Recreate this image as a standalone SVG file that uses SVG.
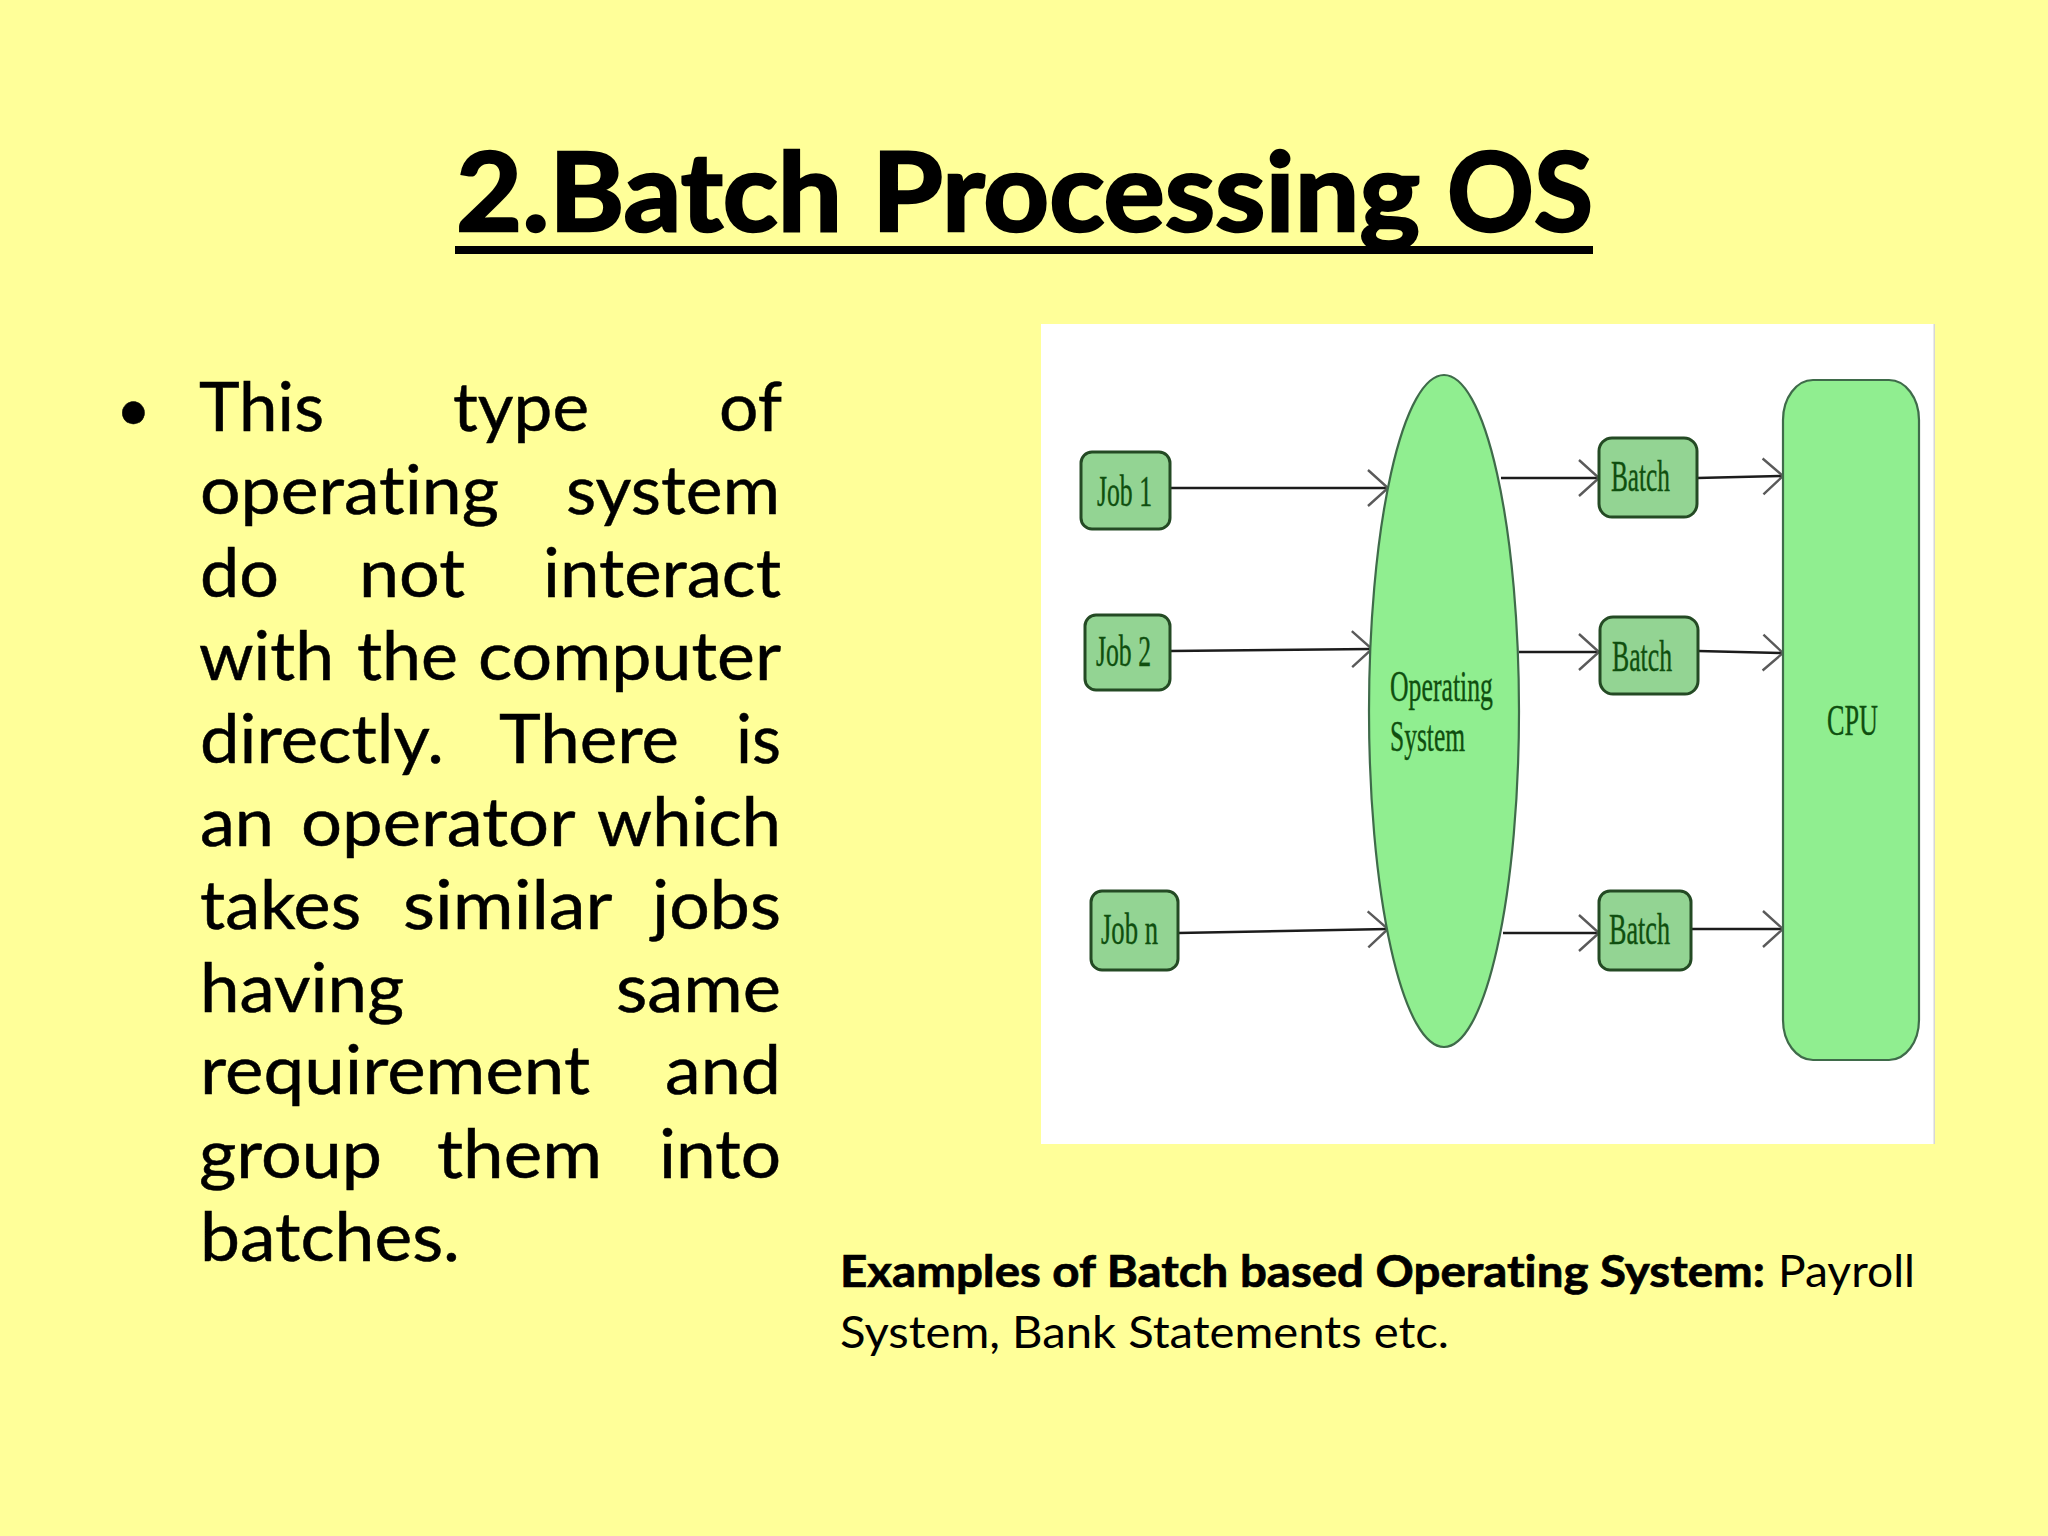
<svg xmlns="http://www.w3.org/2000/svg" width="2048" height="1536" viewBox="0 0 2048 1536">
<style>
.t{font-family:"Lato","Noto Sans",sans-serif;fill:#000;font-variant-ligatures:none}
.title{font-size:110px;font-weight:700;stroke:#000;stroke-width:2.5px}
.body{font-size:67px;stroke:#000;stroke-width:.5px}
.cap{font-size:44px}
.b{font-weight:700;stroke:#000;stroke-width:.7px}
.lbl{font-family:"Liberation Serif","Times New Roman",serif;font-size:44px;fill:#0f4f0f;stroke:#0f4f0f;stroke-width:.4px}
.box{fill:#93d493;stroke:#244a24;stroke-width:3}
.big{fill:#90ee90;stroke:#3f6b4a;stroke-width:2.2}
.conn{fill:none;stroke:#1c1c1c;stroke-width:2.6;marker-end:url(#arr)}
</style>
<defs>
<marker id="arr" markerUnits="userSpaceOnUse" markerWidth="26" markerHeight="44" refX="22" refY="20" orient="auto" overflow="visible">
<path d="M2,2 L22,20 L2,38" fill="none" stroke="#5a5a5a" stroke-width="2.4"/>
</marker>
</defs>
<rect width="2048" height="1536" fill="#ffff99"/>
<g id="title">
<text class="t title" y="231"><tspan x="456" textLength="386" lengthAdjust="spacingAndGlyphs">2.Batch</tspan> <tspan x="872" textLength="548" lengthAdjust="spacingAndGlyphs">Processing</tspan> <tspan x="1447" textLength="146" lengthAdjust="spacingAndGlyphs">OS</tspan></text>
<rect x="455" y="246" width="1138" height="8" fill="#000"/>
</g>
<g id="bullet-text">
<text class="t body" x="116" y="431" style="font-size:60px">•</text>
<text class="t body" y="431"><tspan x="199" textLength="125" lengthAdjust="spacingAndGlyphs">This</tspan> <tspan x="453" textLength="136" lengthAdjust="spacingAndGlyphs">type</tspan> <tspan x="719" textLength="63" lengthAdjust="spacingAndGlyphs">of</tspan></text>
<text class="t body" y="514"><tspan x="200" textLength="299" lengthAdjust="spacingAndGlyphs">operating</tspan> <tspan x="566" textLength="214" lengthAdjust="spacingAndGlyphs">system</tspan></text>
<text class="t body" y="597"><tspan x="200" textLength="79" lengthAdjust="spacingAndGlyphs">do</tspan> <tspan x="359" textLength="106" lengthAdjust="spacingAndGlyphs">not</tspan> <tspan x="543" textLength="238" lengthAdjust="spacingAndGlyphs">interact</tspan></text>
<text class="t body" y="680"><tspan x="199" textLength="135" lengthAdjust="spacingAndGlyphs">with</tspan> <tspan x="357" textLength="101" lengthAdjust="spacingAndGlyphs">the</tspan> <tspan x="478" textLength="303" lengthAdjust="spacingAndGlyphs">computer</tspan></text>
<text class="t body" y="763"><tspan x="200" textLength="244" lengthAdjust="spacingAndGlyphs">directly.</tspan> <tspan x="499" textLength="180" lengthAdjust="spacingAndGlyphs">There</tspan> <tspan x="736" textLength="45" lengthAdjust="spacingAndGlyphs">is</tspan></text>
<text class="t body" y="846"><tspan x="200" textLength="74" lengthAdjust="spacingAndGlyphs">an</tspan> <tspan x="301" textLength="273" lengthAdjust="spacingAndGlyphs">operator</tspan> <tspan x="597" textLength="184" lengthAdjust="spacingAndGlyphs">which</tspan></text>
<text class="t body" y="929"><tspan x="200" textLength="161" lengthAdjust="spacingAndGlyphs">takes</tspan> <tspan x="403" textLength="208" lengthAdjust="spacingAndGlyphs">similar</tspan> <tspan x="652" textLength="129" lengthAdjust="spacingAndGlyphs">jobs</tspan></text>
<text class="t body" y="1012"><tspan x="200" textLength="204" lengthAdjust="spacingAndGlyphs">having</tspan> <tspan x="616" textLength="165" lengthAdjust="spacingAndGlyphs">same</tspan></text>
<text class="t body" y="1094"><tspan x="200" textLength="390" lengthAdjust="spacingAndGlyphs">requirement</tspan> <tspan x="665" textLength="116" lengthAdjust="spacingAndGlyphs">and</tspan></text>
<text class="t body" y="1178"><tspan x="199" textLength="183" lengthAdjust="spacingAndGlyphs">group</tspan> <tspan x="437" textLength="165" lengthAdjust="spacingAndGlyphs">them</tspan> <tspan x="659" textLength="122" lengthAdjust="spacingAndGlyphs">into</tspan></text>
<text class="t body" y="1261"><tspan x="200" textLength="260" lengthAdjust="spacingAndGlyphs">batches.</tspan></text>
</g>
<g id="picture">
<rect x="1041" y="324" width="894" height="820" fill="#fff"/>
<rect x="1933.5" y="324" width="1.5" height="820" fill="#d6d6d6"/>
</g>
<g id="connectors">
<path class="conn" d="M1170,488 L1388,488"/>
<path class="conn" d="M1170,651 L1372,649"/>
<path class="conn" d="M1178,933 L1388,929"/>
<path class="conn" d="M1501,478 L1599,478"/>
<path class="conn" d="M1519,652 L1599,652"/>
<path class="conn" d="M1503,933 L1599,933"/>
<path class="conn" d="M1697,478 L1783,476"/>
<path class="conn" d="M1698,651 L1783,653"/>
<path class="conn" d="M1691,929 L1783,929"/>
</g>
<g id="job1"><rect class="box" x="1081" y="452" width="89" height="77" rx="11"/><text class="lbl" x="1097" y="506" textLength="55" lengthAdjust="spacingAndGlyphs">Job 1</text></g>
<g id="job2"><rect class="box" x="1085" y="615" width="85" height="75" rx="11"/><text class="lbl" x="1096" y="666" textLength="55" lengthAdjust="spacingAndGlyphs">Job 2</text></g>
<g id="jobn"><rect class="box" x="1091" y="891" width="87" height="79" rx="11"/><text class="lbl" x="1101" y="944" textLength="57" lengthAdjust="spacingAndGlyphs">Job n</text></g>
<g id="os"><ellipse class="big" cx="1444" cy="711" rx="75" ry="336"/><text class="lbl" x="1390" y="701" textLength="103" lengthAdjust="spacingAndGlyphs">Operating</text><text class="lbl" x="1390" y="751" textLength="75" lengthAdjust="spacingAndGlyphs">System</text></g>
<g id="batch1"><rect class="box" x="1599" y="438" width="98" height="79" rx="13"/><text class="lbl" x="1611" y="491" textLength="59" lengthAdjust="spacingAndGlyphs">Batch</text></g>
<g id="batch2"><rect class="box" x="1600" y="617" width="98" height="77" rx="13"/><text class="lbl" x="1612" y="671" textLength="60" lengthAdjust="spacingAndGlyphs">Batch</text></g>
<g id="batchn"><rect class="box" x="1599" y="891" width="92" height="79" rx="11"/><text class="lbl" x="1609" y="944" textLength="61" lengthAdjust="spacingAndGlyphs">Batch</text></g>
<g id="cpu"><rect class="big" x="1783" y="380" width="136" height="680" rx="30" ry="40"/><text class="lbl" x="1827" y="735" textLength="51" lengthAdjust="spacingAndGlyphs">CPU</text></g>
<g id="caption">
<text class="t cap" y="1287"><tspan class="b" x="840" textLength="925" lengthAdjust="spacingAndGlyphs">Examples of Batch based Operating System:</tspan> <tspan x="1778" textLength="137" lengthAdjust="spacingAndGlyphs">Payroll</tspan></text>
<text class="t cap" x="840" y="1348" textLength="609" lengthAdjust="spacingAndGlyphs">System, Bank Statements etc.</text>
</g>
</svg>
